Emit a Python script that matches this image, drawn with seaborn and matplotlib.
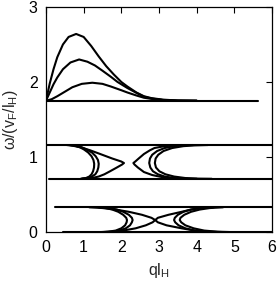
import numpy as np
import pandas as pd
import matplotlib
matplotlib.use("Agg")
import matplotlib.pyplot as plt
import seaborn as sns

# ---- data: (ql_H, omega) per curve ----
# flat band edges
edge_hi_top_q = [0.0, 5.63]
edge_hi_top_w = [1.75, 1.75]
edge_mid_up_q = [0.0, 6.0]
edge_mid_up_w = [1.16, 1.16]
edge_mid_lo_q = [0.08, 6.0]
edge_mid_lo_w = [0.71, 0.71]
edge_low_up_q = [0.24, 6.0]
edge_low_up_w = [0.33, 0.33]
edge_low_lo_q = [0.45, 6.0]
edge_low_lo_w = [0.0, 0.0]

# upper humps
hump1_q = [0.0, 0.1, 0.2, 0.3, 0.45, 0.6, 0.8, 1.0, 1.2, 1.4, 1.6, 1.8, 2.0, 2.16, 2.4, 2.6, 2.8, 3.1, 3.5, 4.0]
hump1_w = [1.75, 1.98, 2.17, 2.33, 2.50, 2.60, 2.64, 2.60, 2.48, 2.34, 2.21, 2.10, 2.00, 1.94, 1.86, 1.81, 1.785, 1.765, 1.753, 1.75]
hump2_q = [0.0, 0.1, 0.2, 0.3, 0.45, 0.65, 0.88, 1.1, 1.3, 1.5, 1.72, 1.9, 2.16, 2.4, 2.6, 2.8, 3.1, 3.5, 4.0]
hump2_w = [1.75, 1.86, 1.97, 2.06, 2.17, 2.26, 2.30, 2.27, 2.22, 2.15, 2.07, 2.00, 1.92, 1.855, 1.805, 1.78, 1.76, 1.752, 1.75]
hump3_q = [0.0, 0.15, 0.3, 0.5, 0.7, 0.95, 1.23, 1.5, 1.72, 2.0, 2.16, 2.4, 2.6, 2.8, 3.1, 3.5, 4.0]
hump3_w = [1.75, 1.77, 1.81, 1.87, 1.93, 1.975, 1.99, 1.975, 1.94, 1.89, 1.86, 1.82, 1.79, 1.775, 1.76, 1.752, 1.75]

# middle band, left-opening and right-opening branches
mid_a_w = [0.71, 0.72, 0.74, 0.77, 0.81, 0.86, 0.90, 0.92, 0.94, 0.98, 1.04, 1.09, 1.125, 1.15, 1.16]
mid_a_q = [0.95, 1.22, 1.40, 1.55, 1.70, 1.88, 2.02, 2.07, 2.00, 1.76, 1.44, 1.17, 0.95, 0.72, 0.55]
mid_b_w = [0.71, 0.72, 0.74, 0.77, 0.81, 0.86, 0.91, 0.96, 1.01, 1.06, 1.10, 1.13, 1.15, 1.16]
mid_b_q = [0.95, 1.10, 1.22, 1.31, 1.36, 1.39, 1.40, 1.38, 1.32, 1.22, 1.08, 0.95, 0.80, 0.65]
mid_c_q = [0.92, 1.06, 1.15, 1.21, 1.25, 1.275, 1.28, 1.26, 1.21, 1.12, 1.01, 0.90, 0.77, 0.62]
mid_d_w = [0.71, 0.715, 0.73, 0.76, 0.80, 0.86, 0.90, 0.92, 0.94, 0.98, 1.04, 1.09, 1.12, 1.145, 1.16]
mid_d_q = [3.75, 3.40, 3.10, 2.82, 2.60, 2.44, 2.35, 2.32, 2.37, 2.46, 2.60, 2.76, 2.88, 3.15, 3.60]
mid_e_w = [0.71, 0.712, 0.72, 0.74, 0.77, 0.81, 0.86, 0.92, 0.98, 1.03, 1.08, 1.12, 1.145, 1.155, 1.16]
mid_e_q = [4.00, 3.70, 3.40, 3.15, 2.97, 2.84, 2.77, 2.74, 2.76, 2.82, 2.95, 3.15, 3.40, 3.62, 3.90]
mid_f_q = [4.40, 4.05, 3.70, 3.40, 3.17, 3.01, 2.92, 2.89, 2.91, 2.98, 3.12, 3.35, 3.65, 3.95, 4.30]

# lower band
low_w = [0.0, 0.005, 0.02, 0.05, 0.09, 0.13, 0.16, 0.19, 0.23, 0.27, 0.30, 0.32, 0.33]
low_a_q = [1.50, 1.75, 2.05, 2.38, 2.65, 2.83, 2.90, 2.80, 2.55, 2.20, 1.85, 1.50, 1.15]
low_b_q = [1.55, 1.75, 1.95, 2.12, 2.23, 2.28, 2.30, 2.28, 2.20, 2.05, 1.88, 1.70, 1.50]
low_c_q = [1.45, 1.65, 1.85, 2.00, 2.10, 2.14, 2.15, 2.13, 2.05, 1.92, 1.76, 1.58, 1.40]
low_d_q = [4.70, 4.30, 3.95, 3.60, 3.20, 2.97, 2.90, 2.97, 3.25, 3.60, 3.85, 4.10, 4.45]
low_e_q = [4.60, 4.25, 3.95, 3.70, 3.52, 3.43, 3.40, 3.42, 3.50, 3.65, 3.85, 4.10, 4.40]
low_f_q = [4.90, 4.55, 4.20, 3.92, 3.70, 3.59, 3.55, 3.57, 3.67, 3.85, 4.08, 4.35, 4.70]

curves = [
    (edge_hi_top_q, edge_hi_top_w), (edge_mid_up_q, edge_mid_up_w),
    (edge_mid_lo_q, edge_mid_lo_w), (edge_low_up_q, edge_low_up_w),
    (edge_low_lo_q, edge_low_lo_w),
    (hump1_q, hump1_w), (hump2_q, hump2_w), (hump3_q, hump3_w),
    (mid_a_q, mid_a_w), (mid_b_q, mid_b_w), (mid_c_q, mid_b_w),
    (mid_d_q, mid_d_w), (mid_e_q, mid_e_w), (mid_f_q, mid_e_w),
    (low_a_q, low_w), (low_b_q, low_w), (low_c_q, low_w),
    (low_d_q, low_w), (low_e_q, low_w), (low_f_q, low_w),
]

sns.set_style("white")
plt.rcParams["font.family"] = ["Liberation Sans", "DejaVu Sans"]
plt.rcParams["mathtext.fontset"] = "custom"
plt.rcParams["mathtext.rm"] = "Liberation Sans"

fig = plt.figure(figsize=(2.77, 2.89), dpi=100)
ax = fig.add_axes([0.166, 0.197, 0.816, 0.779])

for q, w in curves:
    df = pd.DataFrame({"q": q, "w": w})
    sns.lineplot(data=df, x="q", y="w", sort=False, estimator=None,
                 color="black", lw=1.5, ax=ax)

ax.set_xlim(0, 6)
ax.set_ylim(0, 3)
ax.set_xticks(range(0, 7))
ax.set_yticks(range(0, 4))
ax.tick_params(direction="in", length=4, width=0.8, top=True, right=True,
               labelsize=11.5, colors="black", pad=6)
for s in ax.spines.values():
    s.set_color("black")
    s.set_linewidth(0.9)
ax.set_xlabel("ql$_\\mathregular{H}$", fontsize=11.5, labelpad=4)
ax.set_ylabel("ω/(v$_\\mathregular{F}$/l$_\\mathregular{H}$)", fontsize=11.5, labelpad=6)

fig.savefig("out.png", dpi=100)
